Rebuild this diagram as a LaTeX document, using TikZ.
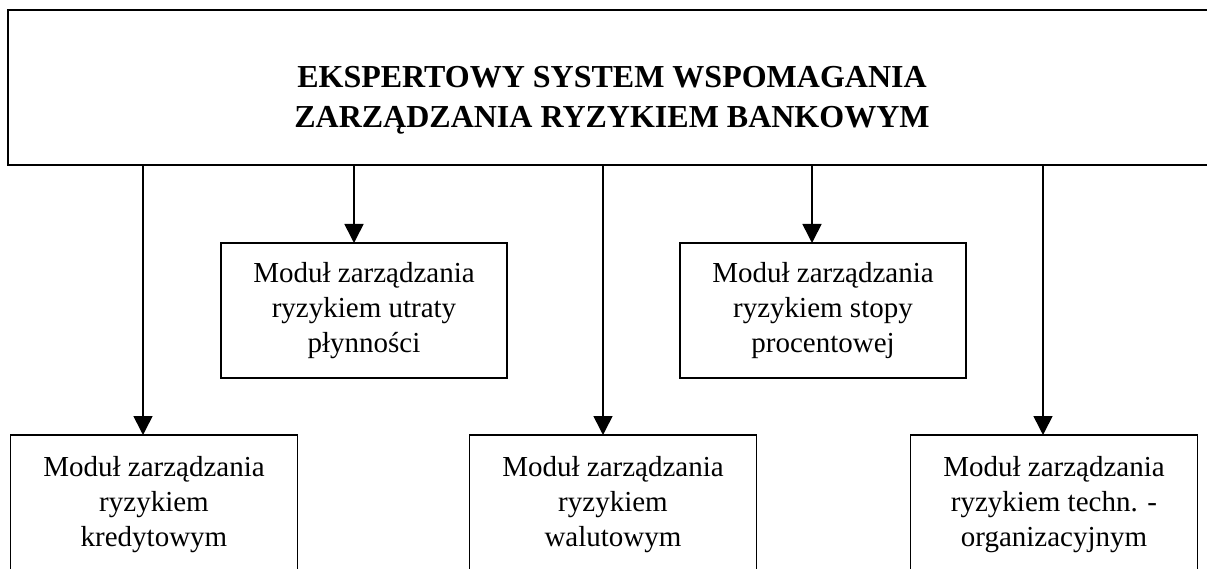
\documentclass[tikz,border=0pt]{standalone}
\usepackage{fontspec}
\setmainfont{Liberation Serif}
\usetikzlibrary{arrows.meta}

\tikzset{
  every node/.style={inner sep=0pt, outer sep=0pt},
  framebox/.style={draw, line width=1.8pt, align=center,
    font=\fontsize{29}{35}\selectfont},
  midbox/.style={framebox, minimum width=286pt, minimum height=135pt},
  lowbox/.style={framebox, minimum width=287pt, minimum height=140pt},
  titleline/.style={font=\fontsize{32}{40}\selectfont\bfseries, anchor=base},
  arr/.style={line width=1.6pt, -{Triangle[length=19pt,width=19pt]}}
}

\begin{document}
\begin{tikzpicture}[x=1pt, y=-1pt]
  \clip (0,0) rectangle (1207,569);

  % main system box (its right side runs past the page edge)
  \node[draw, line width=1.8pt, minimum width=1208pt, minimum height=155pt]
    (top) at (612,87.5) {};
  \node[titleline] (title1) at (612,88) {EKSPERTOWY SYSTEM WSPOMAGANIA};
  \node[titleline] (title2) at (612,128) {ZARZĄDZANIA RYZYKIEM BANKOWYM};

  % upper row of modules
  \node[midbox] (plyn) at (364,310.5)
    {Moduł zarządzania\\ryzykiem utraty\\płynności};
  \node[midbox] (stopa) at (823,310.5)
    {Moduł zarządzania\\ryzykiem stopy\\procentowej};

  % lower row of modules
  \node[lowbox] (kred) at (154,505)
    {Moduł zarządzania\\ryzykiem\\kredytowym};
  \node[lowbox] (walut) at (613,505)
    {Moduł zarządzania\\ryzykiem\\walutowym};
  \node[lowbox] (techn) at (1054,505)
    {Moduł zarządzania\\ryzykiem techn. -\\organizacyjnym};

  % connectors from the system box to each module
  \draw[arr] (top.south -| 143,0)  -- (kred.north -| 143,0);
  \draw[arr] (top.south -| 354,0)  -- (plyn.north -| 354,0);
  \draw[arr] (top.south -| 603,0)  -- (walut.north -| 603,0);
  \draw[arr] (top.south -| 812,0)  -- (stopa.north -| 812,0);
  \draw[arr] (top.south -| 1043,0) -- (techn.north -| 1043,0);
\end{tikzpicture}
\end{document}
